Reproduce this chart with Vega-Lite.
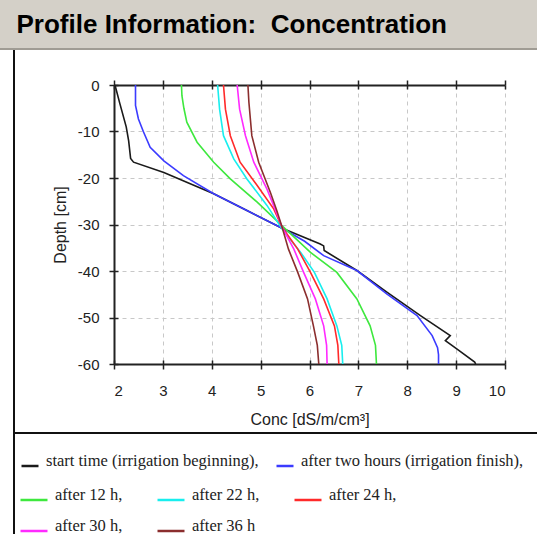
{
  "$schema": "https://vega.github.io/schema/vega-lite/v6.json",
  "padding": 0,
  "background": "white",
  "spacing": 0,
  "config": {
    "view": {"stroke": null},
    "axis": {
      "labelFont": "Liberation Sans", "labelFontSize": 15, "labelColor": "#222222",
      "titleFont": "Liberation Sans", "titleFontSize": 16, "titleFontWeight": "normal", "titleColor": "#222222",
      "domainColor": "#222222", "domainWidth": 2, "tickColor": "#222222", "tickWidth": 1.5, "tickSize": 5,
      "gridColor": "#c8c8c8", "gridDash": [4, 4], "gridWidth": 1
    }
  },
  "datasets": {
    "early": [
      {"series": "start time (irrigation beginning)", "conc": 2.02, "depth": 0},
      {"series": "start time (irrigation beginning)", "conc": 2.12, "depth": -4},
      {"series": "start time (irrigation beginning)", "conc": 2.25, "depth": -9},
      {"series": "start time (irrigation beginning)", "conc": 2.3, "depth": -12},
      {"series": "start time (irrigation beginning)", "conc": 2.34, "depth": -15.8},
      {"series": "start time (irrigation beginning)", "conc": 2.4, "depth": -16.6},
      {"series": "start time (irrigation beginning)", "conc": 3.02, "depth": -18.8},
      {"series": "start time (irrigation beginning)", "conc": 4.04, "depth": -23.4},
      {"series": "start time (irrigation beginning)", "conc": 4.72, "depth": -27},
      {"series": "start time (irrigation beginning)", "conc": 5.44, "depth": -30.8},
      {"series": "start time (irrigation beginning)", "conc": 6.22, "depth": -34.2},
      {"series": "start time (irrigation beginning)", "conc": 6.29, "depth": -34.6},
      {"series": "start time (irrigation beginning)", "conc": 6.3, "depth": -35.6},
      {"series": "start time (irrigation beginning)", "conc": 6.97, "depth": -39.9},
      {"series": "start time (irrigation beginning)", "conc": 7.59, "depth": -44.6},
      {"series": "start time (irrigation beginning)", "conc": 8.27, "depth": -49.6},
      {"series": "start time (irrigation beginning)", "conc": 8.88, "depth": -53.9},
      {"series": "start time (irrigation beginning)", "conc": 8.78, "depth": -55},
      {"series": "start time (irrigation beginning)", "conc": 9.02, "depth": -56.8},
      {"series": "start time (irrigation beginning)", "conc": 9.38, "depth": -59.6},
      {"series": "start time (irrigation beginning)", "conc": 9.4, "depth": -60},
      {"series": "after two hours (irrigation finish)", "conc": 2.44, "depth": 0},
      {"series": "after two hours (irrigation finish)", "conc": 2.44, "depth": -4.4},
      {"series": "after two hours (irrigation finish)", "conc": 2.5, "depth": -7.3},
      {"series": "after two hours (irrigation finish)", "conc": 2.6, "depth": -10},
      {"series": "after two hours (irrigation finish)", "conc": 2.74, "depth": -13.4},
      {"series": "after two hours (irrigation finish)", "conc": 3.02, "depth": -16.3},
      {"series": "after two hours (irrigation finish)", "conc": 3.42, "depth": -19.5},
      {"series": "after two hours (irrigation finish)", "conc": 4.04, "depth": -23.4},
      {"series": "after two hours (irrigation finish)", "conc": 4.72, "depth": -27},
      {"series": "after two hours (irrigation finish)", "conc": 5.44, "depth": -30.8},
      {"series": "after two hours (irrigation finish)", "conc": 5.9, "depth": -33.6},
      {"series": "after two hours (irrigation finish)", "conc": 6.29, "depth": -36.7},
      {"series": "after two hours (irrigation finish)", "conc": 6.97, "depth": -39.9},
      {"series": "after two hours (irrigation finish)", "conc": 7.58, "depth": -44.9},
      {"series": "after two hours (irrigation finish)", "conc": 8.2, "depth": -49.6},
      {"series": "after two hours (irrigation finish)", "conc": 8.51, "depth": -53.9},
      {"series": "after two hours (irrigation finish)", "conc": 8.62, "depth": -56.5},
      {"series": "after two hours (irrigation finish)", "conc": 8.64, "depth": -58},
      {"series": "after two hours (irrigation finish)", "conc": 8.64, "depth": -60}
    ],
    "late": [
      {"series": "after 12 h", "conc": 3.38, "depth": 0},
      {"series": "after 12 h", "conc": 3.39, "depth": -2.3},
      {"series": "after 12 h", "conc": 3.43, "depth": -5},
      {"series": "after 12 h", "conc": 3.49, "depth": -8},
      {"series": "after 12 h", "conc": 3.7, "depth": -12.3},
      {"series": "after 12 h", "conc": 4.04, "depth": -16.6},
      {"series": "after 12 h", "conc": 4.38, "depth": -20.2},
      {"series": "after 12 h", "conc": 4.93, "depth": -25.2},
      {"series": "after 12 h", "conc": 5.44, "depth": -30.3},
      {"series": "after 12 h", "conc": 6.02, "depth": -36},
      {"series": "after 12 h", "conc": 6.56, "depth": -40.3},
      {"series": "after 12 h", "conc": 6.97, "depth": -46},
      {"series": "after 12 h", "conc": 7.24, "depth": -51.8},
      {"series": "after 12 h", "conc": 7.35, "depth": -56},
      {"series": "after 12 h", "conc": 7.37, "depth": -60},
      {"series": "after 22 h", "conc": 4.12, "depth": 0},
      {"series": "after 22 h", "conc": 4.16, "depth": -5.2},
      {"series": "after 22 h", "conc": 4.24, "depth": -10.9},
      {"series": "after 22 h", "conc": 4.45, "depth": -15.9},
      {"series": "after 22 h", "conc": 4.72, "depth": -20.2},
      {"series": "after 22 h", "conc": 5.13, "depth": -25.9},
      {"series": "after 22 h", "conc": 5.44, "depth": -31},
      {"series": "after 22 h", "conc": 5.82, "depth": -36},
      {"series": "after 22 h", "conc": 6.1, "depth": -40.3},
      {"series": "after 22 h", "conc": 6.36, "depth": -46},
      {"series": "after 22 h", "conc": 6.56, "depth": -51.8},
      {"series": "after 22 h", "conc": 6.66, "depth": -56},
      {"series": "after 22 h", "conc": 6.68, "depth": -60},
      {"series": "after 24 h", "conc": 4.24, "depth": 0},
      {"series": "after 24 h", "conc": 4.28, "depth": -5.2},
      {"series": "after 24 h", "conc": 4.38, "depth": -10.9},
      {"series": "after 24 h", "conc": 4.58, "depth": -16.6},
      {"series": "after 24 h", "conc": 4.93, "depth": -21.6},
      {"series": "after 24 h", "conc": 5.27, "depth": -26.7},
      {"series": "after 24 h", "conc": 5.44, "depth": -30.6},
      {"series": "after 24 h", "conc": 5.76, "depth": -35.3},
      {"series": "after 24 h", "conc": 6.02, "depth": -40.3},
      {"series": "after 24 h", "conc": 6.29, "depth": -46},
      {"series": "after 24 h", "conc": 6.51, "depth": -51.8},
      {"series": "after 24 h", "conc": 6.58, "depth": -56},
      {"series": "after 24 h", "conc": 6.6, "depth": -60},
      {"series": "after 30 h", "conc": 4.52, "depth": 0},
      {"series": "after 30 h", "conc": 4.57, "depth": -5.2},
      {"series": "after 30 h", "conc": 4.69, "depth": -10.9},
      {"series": "after 30 h", "conc": 4.86, "depth": -16.6},
      {"series": "after 30 h", "conc": 5.13, "depth": -22.4},
      {"series": "after 30 h", "conc": 5.3, "depth": -26.8},
      {"series": "after 30 h", "conc": 5.44, "depth": -30.6},
      {"series": "after 30 h", "conc": 5.68, "depth": -35.3},
      {"series": "after 30 h", "conc": 5.88, "depth": -40.3},
      {"series": "after 30 h", "conc": 6.12, "depth": -46},
      {"series": "after 30 h", "conc": 6.29, "depth": -51.8},
      {"series": "after 30 h", "conc": 6.35, "depth": -56},
      {"series": "after 30 h", "conc": 6.36, "depth": -60},
      {"series": "after 36 h", "conc": 4.74, "depth": 0},
      {"series": "after 36 h", "conc": 4.76, "depth": -3.7},
      {"series": "after 36 h", "conc": 4.82, "depth": -10.9},
      {"series": "after 36 h", "conc": 4.96, "depth": -16.6},
      {"series": "after 36 h", "conc": 5.2, "depth": -23.1},
      {"series": "after 36 h", "conc": 5.33, "depth": -27},
      {"series": "after 36 h", "conc": 5.44, "depth": -30.6},
      {"series": "after 36 h", "conc": 5.57, "depth": -35.3},
      {"series": "after 36 h", "conc": 5.76, "depth": -40.3},
      {"series": "after 36 h", "conc": 5.96, "depth": -46},
      {"series": "after 36 h", "conc": 6.08, "depth": -51.8},
      {"series": "after 36 h", "conc": 6.16, "depth": -56},
      {"series": "after 36 h", "conc": 6.19, "depth": -60}
    ],
    "heading": [{"label": "Profile Information:\u00a0 Concentration"}],
    "blank": [{}]
  },
  "vconcat": [
    {
      "width": 537,
      "height": 48,
      "view": {"fill": "#d4d0c8", "stroke": null},
      "data": {"name": "heading"},
      "mark": {
        "type": "text", "align": "left", "baseline": "alphabetic", "dx": -252, "dy": 9,
        "font": "Liberation Sans", "fontSize": 26, "fontWeight": "bold", "color": "#000000"
      },
      "encoding": {"text": {"field": "label", "type": "nominal"}}
    },
    {"width": 537, "height": 2, "view": {"fill": "#a09c94", "stroke": null}, "data": {"name": "blank"}, "mark": {"type": "point", "opacity": 0, "size": 0}, "encoding": {}},
    {
      "spacing": 0,
      "hconcat": [
        {"width": 13, "height": 1, "data": {"name": "blank"}, "mark": {"type": "point", "opacity": 0, "size": 0}, "encoding": {}},
        {"width": 2, "height": 382, "view": {"fill": "#111111", "stroke": null}, "data": {"name": "blank"}, "mark": {"type": "point", "opacity": 0, "size": 0}, "encoding": {}},
        {"width": 37, "height": 1, "data": {"name": "blank"}, "mark": {"type": "point", "opacity": 0, "size": 0}, "encoding": {}},
        {
          "spacing": 0,
          "vconcat": [
            {"width": 391, "height": 28, "data": {"name": "blank"}, "mark": {"type": "point", "opacity": 0, "size": 0}, "encoding": {}},
            {
              "width": 391,
              "height": 279,
              "resolve": {"axis": {"x": "independent", "y": "independent"}},
              "layer": [
                {
                  "data": {"name": "early"},
                  "transform": [{"filter": {"field": "series", "equal": "start time (irrigation beginning)"}}],
                  "mark": {"type": "line", "strokeWidth": 1.6},
                  "encoding": {
                    "x": {
                      "field": "conc", "type": "quantitative",
                      "scale": {"domain": [2, 10], "nice": false, "zero": false},
                      "axis": {
                        "orient": "bottom",
                        "values": [2, 3, 4, 5, 6, 7, 8, 9, 10], "title": "Conc [dS/m/cm³]",
                        "grid": true, "labelPadding": 14, "titlePadding": 13
                      }
                    },
                    "y": {
                      "field": "depth", "type": "quantitative",
                      "scale": {"domain": [-60, 0], "nice": false, "zero": false},
                      "axis": {
                        "orient": "left",
                        "values": [-60, -50, -40, -30, -20, -10, 0], "title": "Depth [cm]",
                        "grid": true, "labelPadding": 10, "titlePadding": 9,
                        "labelExpr": "'' + datum.value"
                      }
                    },
                    "order": {"field": "depth", "sort": "descending"},
                    "color": {
                      "field": "series", "type": "nominal",
                      "scale": {
                        "domain": ["start time (irrigation beginning)", "after two hours (irrigation finish)"],
                        "range": ["#1a1a1a", "#3b3bff"]
                      },
                      "legend": {
                        "orient": "none", "legendX": 20, "legendY": 456,
                        "direction": "horizontal", "columns": 2, "columnPadding": 12,
                        "title": null, "padding": 0,
                        "symbolType": "stroke", "symbolSize": 289, "symbolStrokeWidth": 2.5, "symbolOpacity": 1,
                        "labelFont": "Liberation Serif", "labelFontSize": 16.5, "labelColor": "#222222",
                        "labelBaseline": "alphabetic", "labelOffset": 6, "labelLimit": 400,
                        "labelExpr": "datum.label + ','"
                      }
                    }
                  }
                },
                {
                  "data": {"name": "early"},
                  "transform": [{"filter": {"field": "series", "equal": "after two hours (irrigation finish)"}}],
                  "mark": {"type": "line", "strokeWidth": 1.6},
                  "encoding": {
                    "x": {
                      "field": "conc", "type": "quantitative",
                      "axis": {
                        "orient": "top", "values": [2, 3, 4, 5, 6, 7, 8, 9, 10],
                        "labels": false, "title": null, "grid": false
                      }
                    },
                    "y": {
                      "field": "depth", "type": "quantitative",
                      "axis": {
                        "orient": "left", "values": [-60, -50, -40, -30, -20, -10, 0],
                        "labels": false, "title": null, "grid": false, "domain": false, "tickSize": -4
                      }
                    },
                    "order": {"field": "depth", "sort": "descending"},
                    "color": {"field": "series", "type": "nominal"}
                  }
                },
                {
                  "data": {"name": "late"},
                  "transform": [{"filter": {"field": "series", "oneOf": ["after 12 h", "after 22 h", "after 24 h"]}}],
                  "mark": {"type": "line", "strokeWidth": 1.6},
                  "encoding": {
                    "x": {
                      "field": "conc", "type": "quantitative",
                      "axis": {
                        "orient": "bottom", "values": [2, 3, 4, 5, 6, 7, 8, 9, 10],
                        "labels": false, "title": null, "grid": false, "domain": false, "tickSize": -4
                      }
                    },
                    "y": {"field": "depth", "type": "quantitative", "axis": null},
                    "order": {"field": "depth", "sort": "descending"},
                    "stroke": {
                      "field": "series", "type": "nominal",
                      "scale": {
                        "domain": ["after 12 h", "after 22 h", "after 24 h", "after 30 h", "after 36 h"],
                        "range": ["#3ee83e", "#18eeee", "#ff2a2a", "#ff2aff", "#8b2e2e"]
                      },
                      "legend": {
                        "orient": "none", "legendX": 19, "legendY": 485,
                        "direction": "horizontal", "columns": 3, "columnPadding": 29, "rowPadding": 11,
                        "title": null, "padding": 0,
                        "symbolType": "stroke", "symbolSize": 729, "symbolStrokeWidth": 2.5, "symbolOpacity": 1,
                        "labelFont": "Liberation Serif", "labelFontSize": 16.5, "labelColor": "#222222",
                        "labelBaseline": "alphabetic", "labelOffset": 6, "labelLimit": 400,
                        "labelExpr": "datum.label == 'after 36 h' ? datum.label : datum.label + ','"
                      }
                    }
                  }
                },
                {
                  "data": {"name": "late"},
                  "transform": [{"filter": {"field": "series", "oneOf": ["after 30 h", "after 36 h"]}}],
                  "mark": {"type": "line", "strokeWidth": 1.6},
                  "encoding": {
                    "x": {
                      "field": "conc", "type": "quantitative",
                      "axis": {
                        "orient": "top", "values": [2, 3, 4, 5, 6, 7, 8, 9, 10],
                        "labels": false, "title": null, "grid": false, "domain": false, "tickSize": -4
                      }
                    },
                    "y": {"field": "depth", "type": "quantitative", "axis": null},
                    "order": {"field": "depth", "sort": "descending"},
                    "stroke": {"field": "series", "type": "nominal"}
                  }
                }
              ]
            }
          ]
        }
      ]
    },
    {
      "spacing": 0,
      "hconcat": [
        {"width": 13, "height": 1, "data": {"name": "blank"}, "mark": {"type": "point", "opacity": 0, "size": 0}, "encoding": {}},
        {"width": 530, "height": 110, "view": {"stroke": "#111111", "strokeWidth": 2, "fill": null}, "data": {"name": "blank"}, "mark": {"type": "point", "opacity": 0, "size": 0}, "encoding": {}}
      ]
    }
  ]
}
